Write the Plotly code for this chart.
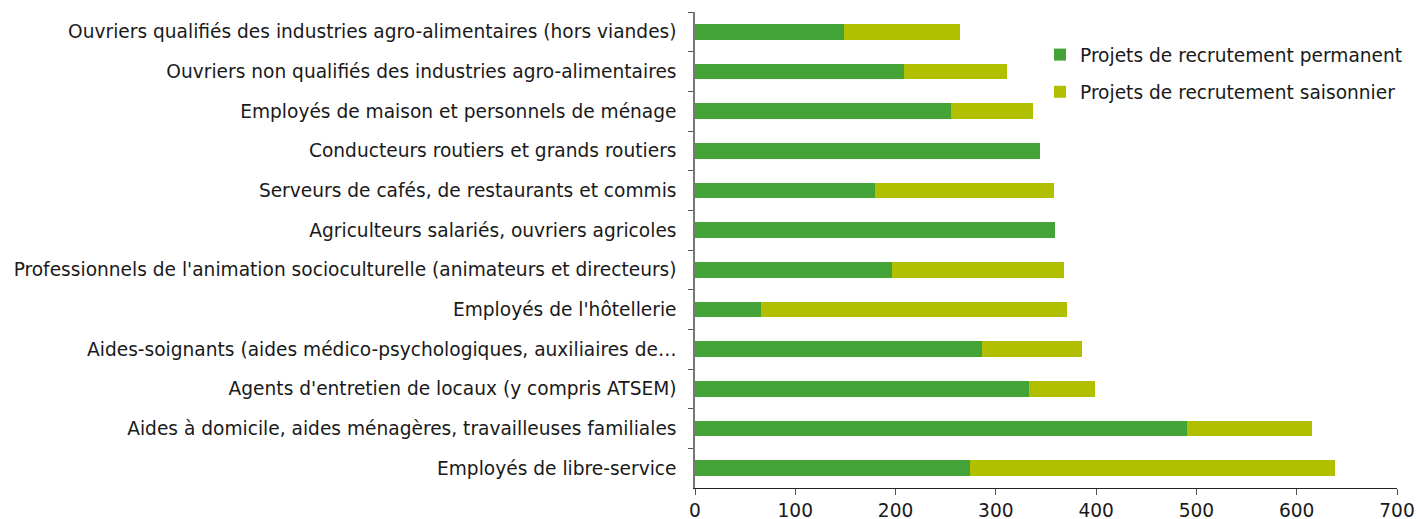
import plotly.graph_objects as go

categories = [
    "Ouvriers qualifiés des industries agro-alimentaires (hors viandes)",
    "Ouvriers non qualifiés des industries agro-alimentaires",
    "Employés de maison et personnels de ménage",
    "Conducteurs routiers et grands routiers",
    "Serveurs de cafés, de restaurants et commis",
    "Agriculteurs salariés, ouvriers agricoles",
    "Professionnels de l'animation socioculturelle (animateurs et directeurs)",
    "Employés de l'hôtellerie",
    "Aides-soignants (aides médico-psychologiques, auxiliaires de…",
    "Agents d'entretien de locaux (y compris ATSEM)",
    "Aides à domicile, aides ménagères, travailleuses familiales",
    "Employés de libre-service",
]
permanent = [149, 208, 255, 344, 179, 359, 196, 66, 286, 333, 491, 274]
saisonnier = [115, 103, 82, 0, 179, 0, 172, 305, 100, 66, 124, 364]

green = "#43a337"
yellow = "#b0c000"
font = "DejaVu Sans"
fs = 18.6

fig = go.Figure()
fig.add_trace(go.Bar(
    y=categories, x=permanent, orientation="h", name="Projets de recrutement permanent",
    marker=dict(color=green, line=dict(width=0)), width=0.4, legendgroup="a",
))
fig.add_trace(go.Bar(
    y=categories, x=saisonnier, orientation="h", name="Projets de recrutement saisonnier",
    marker=dict(color=yellow, line=dict(width=0)), width=0.4, legendgroup="b",
))

fig.update_layout(
    width=1416, height=519,
    barmode="stack",
    plot_bgcolor="white", paper_bgcolor="white",
    margin=dict(l=695, r=19, t=12, b=31, autoexpand=False),
    font=dict(family=font, size=fs, color="#1a1a1a"),
    legend=dict(
        x=(1040 - 695) / 702, y=(488 - 36) / 476, xanchor="left", yanchor="top",
        xref="paper", yref="paper",
        traceorder="grouped", tracegroupgap=10, font=dict(size=fs, color="#1a1a1a"),
        bgcolor="rgba(0,0,0,0)", itemwidth=30,
    ),
    xaxis=dict(
        range=[0, 700], dtick=100, tick0=0, showgrid=False, zeroline=False,
        showline=True, linecolor="#222", linewidth=1,
        ticks="outside", ticklen=6, tickcolor="#555",
        tickfont=dict(size=fs, color="#1a1a1a"),
    ),
    yaxis=dict(
        type="category", autorange="reversed", showgrid=False,
        showline=True, linecolor="#777", linewidth=1.5,
        ticks="outside", ticklen=5, tickcolor="#555", tickson="boundaries",
        tickfont=dict(size=fs, color="#1a1a1a"), ticklabelstandoff=13,
    ),
)

fig.write_html("out.html", config={"displayModeBar": False},
               post_script="document.body.style.margin='0px';document.body.style.overflow='hidden';")
